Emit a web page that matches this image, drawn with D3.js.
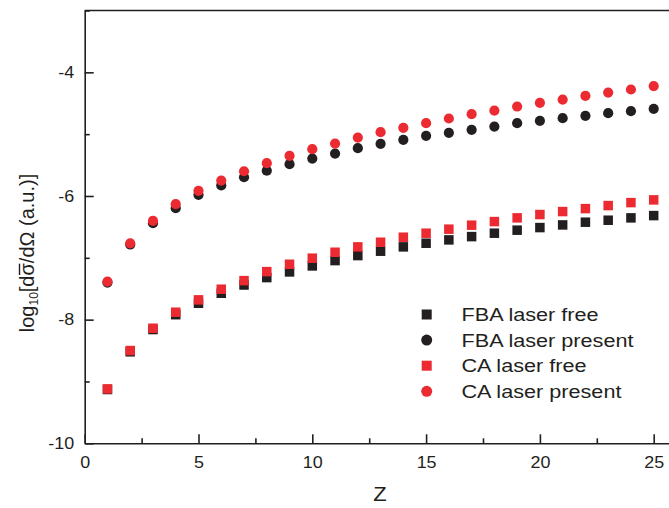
<!DOCTYPE html>
<html>
<head>
<meta charset="utf-8">
<script src="https://cdn.jsdelivr.net/npm/d3@7"></script>
<style>
  body { margin: 0; background: #fff; }
  svg { display: block; font-family: "Liberation Sans", Arial, sans-serif; }
</style>
</head>
<body>
<svg id="chart" width="669" height="508"></svg>
<script>
// atomic number Z
var zValues = [1, 2, 3, 4, 5, 6, 7, 8, 9, 10, 11, 12, 13, 14, 15, 16, 17, 18, 19, 20, 21, 22, 23, 24, 25];

// log10 of the cross section
var fbaFree = [-9.13, -8.52, -8.16, -7.92, -7.735, -7.573, -7.44, -7.32, -7.228, -7.131, -7.045, -6.964, -6.893,
  -6.823, -6.764, -6.71, -6.657, -6.602, -6.553, -6.511, -6.468, -6.424, -6.392, -6.354, -6.317];
var fbaPresent = [-7.40, -6.785, -6.44, -6.197, -5.982, -5.83, -5.696, -5.59, -5.485, -5.395, -5.314, -5.227, -5.157,
  -5.092, -5.027, -4.979, -4.93, -4.877, -4.822, -4.785, -4.741, -4.704, -4.66, -4.628, -4.59];
var caFree = [-9.12, -8.50, -8.139, -7.88, -7.68, -7.508, -7.369, -7.223, -7.104, -7.006, -6.91, -6.823, -6.748,
  -6.667, -6.602, -6.537, -6.472, -6.414, -6.354, -6.30, -6.252, -6.204, -6.155, -6.107, -6.063];
var caPresent = [-7.385, -6.765, -6.403, -6.133, -5.917, -5.75, -5.60, -5.47, -5.351, -5.243, -5.152, -5.055, -4.968,
  -4.898, -4.822, -4.747, -4.676, -4.618, -4.553, -4.494, -4.44, -4.38, -4.327, -4.278, -4.223];

var xMajor = [0, 5, 10, 15, 20, 25];
var xMinor = [2.5, 7.5, 12.5, 17.5, 22.5];
var yMajor = [-10, -8, -6, -4];
var yMinor = [-9, -7, -5, -3];

var seriesNames = ["FBA laser free", "FBA laser present", "CA laser free", "CA laser present"];

var black = "#231f20";
var red = "#ec2a31";

// black first so the red marks sit on top
var series = [
  { name: seriesNames[0], values: fbaFree, shape: "square", color: black },
  { name: seriesNames[1], values: fbaPresent, shape: "circle", color: black },
  { name: seriesNames[2], values: caFree, shape: "square", color: red },
  { name: seriesNames[3], values: caPresent, shape: "circle", color: red }
];

var svg = d3.select("#chart");

var plotLeft = 84.7, plotTop = 10.5, plotBottom = 443.3;
var x = d3.scaleLinear().domain([0, 26]).range([plotLeft, plotLeft + 26 * 22.76]);
var y = d3.scaleLinear().domain([-10, -3]).range([plotBottom, plotTop]);

// plain hyphen for negatives, like the original
var plainFormat = function(d) { return String(d); };

// top frame line
svg.append("line")
  .attr("x1", x(0)).attr("x2", 669)
  .attr("y1", y(-3)).attr("y2", y(-3))
  .attr("stroke", black).attr("stroke-width", 1.6);

// x axis
var gx = svg.append("g").attr("transform", "translate(0," + plotBottom + ")");
gx.call(d3.axisBottom(x).tickValues(xMajor).tickFormat(plainFormat)
  .tickSizeInner(-9).tickSizeOuter(0).tickPadding(13));
gx.append("g").call(d3.axisBottom(x).tickValues(xMinor).tickFormat("")
  .tickSizeInner(-5).tickSizeOuter(0))
  .select(".domain").remove();

// y axis
var gy = svg.append("g").attr("transform", "translate(" + plotLeft + ",0)");
gy.call(d3.axisLeft(y).tickValues(yMajor).tickFormat(plainFormat)
  .tickSizeInner(-9).tickSizeOuter(0).tickPadding(10.5));
gy.append("g").call(d3.axisLeft(y).tickValues(yMinor).tickFormat("")
  .tickSizeInner(-5).tickSizeOuter(0))
  .select(".domain").remove();

svg.selectAll(".domain, .tick line").attr("stroke", black).attr("stroke-width", 1.6);
svg.selectAll(".tick text").attr("fill", black).style("font-size", "16px")
  .style("font-family", "'Liberation Sans', Arial, sans-serif");
gx.selectAll(".tick text").attr("transform", "scale(1.12,1)");
gy.selectAll(".tick text").attr("x", 0).attr("transform", "translate(-10.5,0) scale(1.12,1)");

// data marks
var plot = svg.append("g");
series.forEach(function(s) {
  var g = plot.append("g").attr("fill", s.color);
  if (s.shape === "square") {
    g.selectAll("rect").data(s.values).enter().append("rect")
      .attr("x", function(d, i) { return x(zValues[i]) - 4.75; })
      .attr("y", function(d) { return y(d) - 4.75; })
      .attr("width", 9.5).attr("height", 9.5);
  } else {
    g.selectAll("circle").data(s.values).enter().append("circle")
      .attr("cx", function(d, i) { return x(zValues[i]); })
      .attr("cy", function(d) { return y(d); })
      .attr("r", 5.1);
  }
});

// legend
var legend = svg.append("g");
series.forEach(function(s, i) {
  var cy = 314.5 + i * 25.6;
  if (s.shape === "square") {
    legend.append("rect").attr("x", 426.7 - 5).attr("y", cy - 5)
      .attr("width", 10).attr("height", 10).attr("fill", s.color);
  } else {
    legend.append("circle").attr("cx", 426.7).attr("cy", cy).attr("r", 5.5).attr("fill", s.color);
  }
  legend.append("text")
    .attr("transform", "translate(461.5," + (cy + 6.5) + ") scale(1.17,1)")
    .attr("fill", black)
    .style("font-size", "18.5px")
    .text(s.name);
});

// axis titles
svg.append("text")
  .attr("transform", "translate(380,501) scale(1.1,1)")
  .attr("text-anchor", "middle")
  .attr("fill", black)
  .style("font-size", "20px")
  .text("Z");

var ylabGroup = svg.append("g").attr("transform", "translate(34,253) rotate(-90)");
var ylab = ylabGroup.append("text")
  .attr("text-anchor", "middle")
  .attr("fill", black)
  .style("font-size", "20px");
ylab.append("tspan").text("log");
ylab.append("tspan").attr("dy", 4).style("font-size", "12px").text("10");
ylab.append("tspan").attr("dy", -4).text("[d\u03c3/d\u03a9 (a.u.)]");

// bar over the sigma (mean cross section)
var sigmaIndex = ylab.text().indexOf("\u03c3");
var p0 = ylab.node().getStartPositionOfChar(sigmaIndex);
var p1 = ylab.node().getEndPositionOfChar(sigmaIndex);
ylabGroup.append("line")
  .attr("x1", p0.x + 0.5).attr("x2", p1.x - 0.5)
  .attr("y1", p0.y - 14.5).attr("y2", p0.y - 14.5)
  .attr("stroke", black).attr("stroke-width", 1.4);
</script>
</body>
</html>
